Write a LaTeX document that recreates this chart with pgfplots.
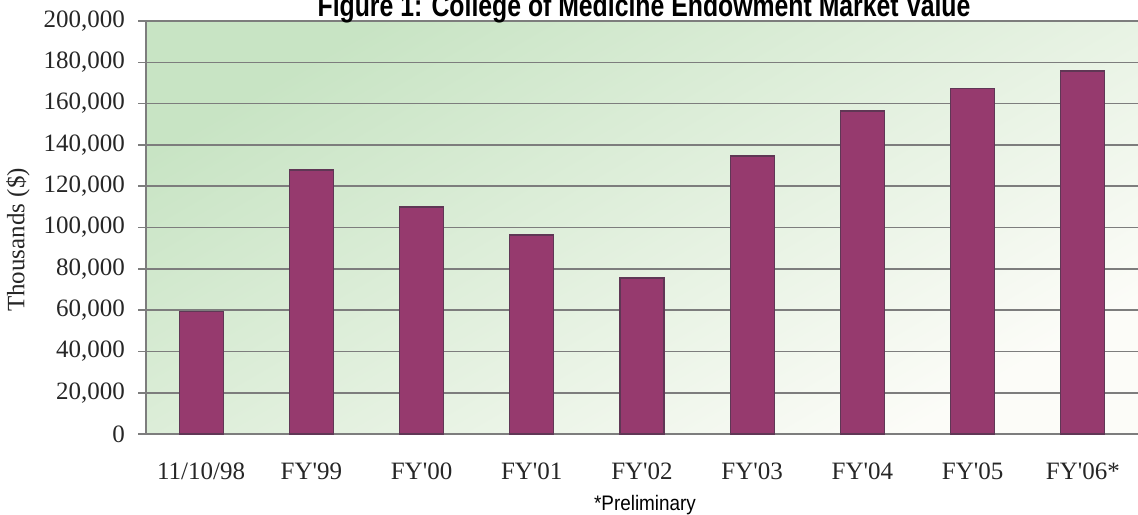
\documentclass[border=0pt]{standalone}
\usepackage{pgfplots}
\pgfplotsset{compat=1.18}
\usepackage{graphicx}
\usepackage{fontspec}
\setmainfont{Liberation Serif}
\newfontfamily\sansf{Liberation Sans}
\definecolor{barfill}{RGB}{150,58,110}
\definecolor{bardraw}{RGB}{95,55,85}
\definecolor{gridc}{RGB}{125,125,125}
\definecolor{bgA}{RGB}{200,228,196}
\definecolor{bgB}{RGB}{252,252,248}
\newcommand{\q}{\textquotesingle}
\begin{document}
\begin{tikzpicture}
\begin{axis}[
  at={(73pt,40pt)}, anchor=south west,
  scale only axis, width=496pt, height=206.5pt,
  xmin=-0.5, xmax=8.5, ymin=0, ymax=200000,
  axis lines=left,
  axis line style={gridc, line width=0.8pt, -},
  axis background/.style={shade, top color=bgA, bottom color=bgB, shading angle=30},
  ybar, bar width=22pt, bar shift=0pt,
  xtick={0,...,8},
  xticklabels={11/10/98,FY\q99,FY\q00,FY\q01,FY\q02,FY\q03,FY\q04,FY\q05,FY\q06*},
  minor xtick={-0.5,0.5,...,8.5},
  ytick={0,20000,...,200000},
  yticklabels={0,{20,000},{40,000},{60,000},{80,000},{100,000},{120,000},{140,000},{160,000},{180,000},{200,000}},
  scaled y ticks=false,
  tick align=outside,
  major tick length=4pt, minor tick length=3.5pt,
  xtick style={draw=none},
  minor x tick style={gridc, line width=0.8pt},
  ytick style={gridc, line width=0.8pt},
  ymajorgrids, grid style={gridc, line width=0.8pt},
  tick label style={font=\fontsize{12.5}{14}\selectfont, text=black!85},
  xticklabel style={yshift=-7pt},
  yticklabel style={xshift=-3pt},
  clip=false,
]
\addplot[fill=barfill, draw=bardraw, line width=0.6pt] coordinates {
  (0,59200) (1,127800) (2,109900) (3,96400) (4,75500)
  (5,134600) (6,156400) (7,167300) (8,175800)
};
\end{axis}
\node[anchor=base] at (322pt,248.5pt) {\sansf\bfseries\scalebox{0.8}[1]{\fontsize{15.5}{17}\selectfont Figure 1: College of Medicine Endowment Market Value}};
\node[rotate=90, anchor=center, text=black!85] at (9pt,137pt) {\fontsize{12.5}{14}\selectfont Thousands (\$)};
\node[anchor=center] at (322.5pt,4.5pt) {\sansf\scalebox{0.9}[1]{\fontsize{10.5}{12}\selectfont *Preliminary}};
\pgfresetboundingbox
\path (0,0) rectangle (569pt,257pt);
\end{tikzpicture}
\end{document}
